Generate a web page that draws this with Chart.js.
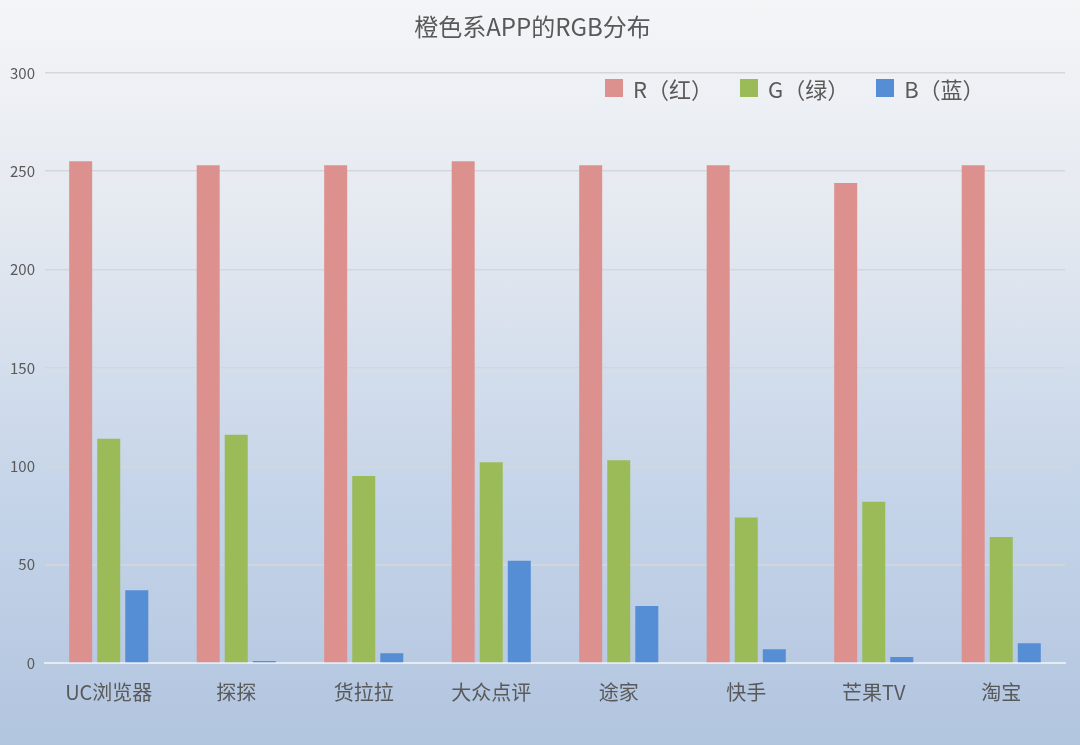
<!DOCTYPE html>
<html>
<head>
<meta charset="utf-8">
<script src="https://cdn.jsdelivr.net/npm/chart.js@4.4.1/dist/chart.umd.min.js"></script>
<style>
  html, body { margin: 0; padding: 0; }
  body {
    width: 1080px; height: 745px; overflow: hidden; position: relative;
    background: linear-gradient(to bottom, #f4f5f7 0%, #e4e9f0 30%, #c6d5e9 65%, #b2c5df 100%);
    font-family: "Noto Sans CJK SC", "Noto Sans", sans-serif;
  }
  #wrap { position: absolute; left: 0; top: 0; width: 1080px; height: 745px; }
  #legend {
    position: absolute; left: 605px; top: 74px; display: flex; gap: 27px;
    font-size: 22px; color: #595959; line-height: 28px;
  }
  #legend .item { display: flex; align-items: center; }
  #legend .box { width: 18px; height: 18px; margin-right: 10px; }
</style>
</head>
<body>
<div id="wrap"><canvas id="grafico" width="1080" height="745"></canvas></div>
<div id="legend"></div>
<script>
const categorias = ["UC浏览器", "探探", "货拉拉", "大众点评", "途家", "快手", "芒果TV", "淘宝"];
const valoresR = [255, 253, 253, 255, 253, 253, 244, 253];
const valoresG = [114, 116, 95, 102, 103, 74, 82, 64];
const valoresB = [37, 1, 5, 52, 29, 7, 3, 10];
const etiquetasY = [0, 50, 100, 150, 200, 250, 300];

const series = [
    { label: "R（红）", data: valoresR, color: "#dd918e" },
    { label: "G（绿）", data: valoresG, color: "#9bbb59" },
    { label: "B（蓝）", data: valoresB, color: "#558ed5" }
];

const leyenda = document.getElementById("legend");
series.forEach((s) => {
    const item = document.createElement("div");
    item.className = "item";
    item.innerHTML = `<span class="box" style="background:${s.color}"></span><span>${s.label}</span>`;
    leyenda.appendChild(item);
});

const fuente = "'Noto Sans CJK SC', 'Noto Sans', sans-serif";

new Chart(document.getElementById("grafico"), {
    type: "bar",
    data: {
        labels: categorias,
        datasets: series.map((s) => ({
            label: s.label,
            data: s.data,
            backgroundColor: s.color,
            barPercentage: 0.82,
            categoryPercentage: 0.66
        }))
    },
    options: {
        responsive: false,
        animation: false,
        layout: { padding: { left: 0, right: 15, bottom: 32, top: 0 } },
        plugins: {
            legend: { display: false },
            tooltip: { enabled: false },
            title: {
                display: true,
                text: "橙色系APP的RGB分布",
                color: "#595959",
                font: { family: fuente, size: 24, weight: "normal" },
                padding: { top: 12, bottom: 32 }
            }
        },
        scales: {
            x: {
                grid: { display: false },
                border: { display: true, color: "#e6ebf2", width: 2 },
                ticks: {
                    color: "#595959",
                    font: { family: fuente, size: 20 },
                    padding: 9,
                    maxRotation: 0
                }
            },
            y: {
                min: 0,
                max: 300,
                afterBuildTicks: (axis) => {
                    axis.ticks = etiquetasY.map((v) => ({ value: v }));
                },
                grid: { color: "#d3d7dd", lineWidth: 1.5, drawTicks: false },
                border: { display: false },
                ticks: {
                    color: "#595959",
                    font: { family: fuente, size: 15 },
                    padding: 10
                }
            }
        }
    }
});
</script>
</body>
</html>
